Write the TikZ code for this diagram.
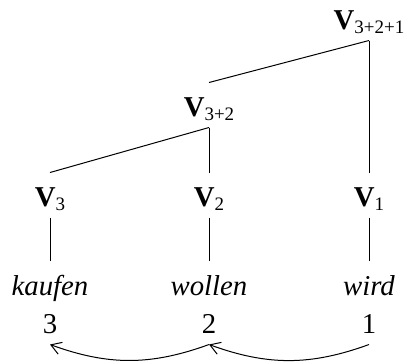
\documentclass[tikz,border=0pt]{standalone}
\usepackage{fontspec}
\setmainfont{Liberation Serif}
\usetikzlibrary{arrows.meta}
\newcommand{\vcat}[1]{\textbf{V}\raisebox{-1.8pt}{\fontsize{7.6}{8}\selectfont#1}}

\begin{document}
\begin{tikzpicture}[x=0.4pt,y=0.4pt,font=\fontsize{11.5}{13}\selectfont,
    cat/.style={anchor=base,inner sep=0pt,text height=13.2pt,text depth=4.4pt},
    word/.style={anchor=base,inner sep=0pt,text height=13.6pt,text depth=2pt},
    num/.style={anchor=base,inner sep=0pt,text height=7pt,text depth=4.4pt},
    mv/.style={-{Straight Barb[length=4pt,width=5pt]},bend left=20}]
  \useasboundingbox (0,0) rectangle (404,-361);
  \node[cat] (top) at (369,-29) {\vcat{3+2+1}};
  \node[cat] (v32) at (209,-116) {\vcat{3+2}};
  \foreach \i/\x/\w in {3/50/kaufen,2/209/wollen,1/369/wird} {
    \node[cat] (v\i) at (\x,-206) {\vcat{\i}};
    \node[word] (w\i) at (\x,-295) {\textit{\w}};
    \node[num] (n\i) at (\x,-333) {\i};
    \draw (v\i.south) -- (w\i.north);
  }
  \draw (top.south) -- (v32.north);
  \draw (top.south) -- (v1.north);
  \draw (v32.south) -- (v3.north);
  \draw (v32.south) -- (v2.north);
  \draw[mv] (n1.south) to (n2.south);
  \draw[mv] (n2.south) to (n3.south);
\end{tikzpicture}
\end{document}
